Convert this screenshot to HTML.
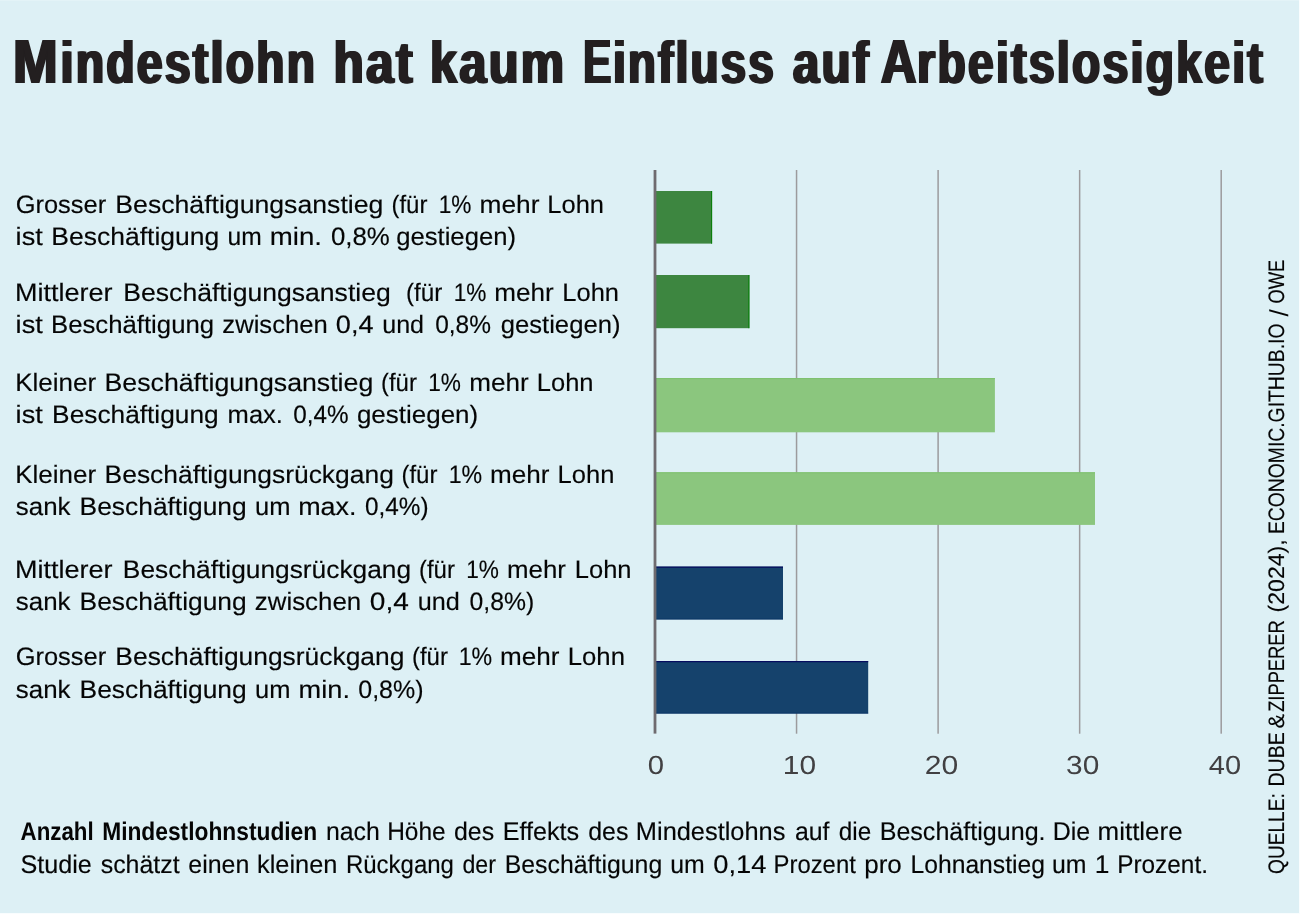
<!DOCTYPE html>
<html lang="de"><head><meta charset="utf-8">
<title>Mindestlohn hat kaum Einfluss auf Arbeitslosigkeit</title>
<style>
html,body{margin:0;padding:0;background:#fff;}
body{width:1300px;height:914px;overflow:hidden;}
svg{display:block;}
text{font-family:"Liberation Sans",sans-serif;fill:#050505;text-rendering:geometricPrecision;}
.ttl{font-size:59.5px;font-weight:bold;fill:#231f20;letter-spacing:3.0px;text-shadow:1.7px 0 0 #231f20,-1.7px 0 0 #231f20;}
.lab text,.cap text{stroke:#050505;stroke-width:0.15px;}
.ttl .c{font-size:62.5px;}
.lab text{font-size:25.2px;}
.cap text{font-size:25.6px;}
.cap .b{font-weight:bold;stroke:none;}
.tick text{font-size:26.3px;fill:#414042;}
.src text{font-size:22.4px;stroke:#050505;stroke-width:0.15px;}
.src .sl{font-size:26px;stroke:none;}
</style></head><body>
<svg width="1300" height="914" viewBox="0 0 1300 914">
<rect x="0" y="0" width="1299" height="913" fill="#ddf0f5"/>
<rect x="0" y="0" width="1299" height="1" fill="#e3f3f7"/>
<rect x="1299" y="0" width="1" height="914" fill="#f9fdfe"/>
<rect x="0" y="913" width="1300" height="1" fill="#f9fdfe"/>
<text class="ttl" y="83.3"><tspan class="c" x="13.15" textLength="47.08" lengthAdjust="spacingAndGlyphs">M</tspan><tspan x="60.68" textLength="256.65" lengthAdjust="spacingAndGlyphs">indestlohn</tspan> <tspan x="333.67" textLength="81.30" lengthAdjust="spacingAndGlyphs">hat</tspan> <tspan x="430.12" textLength="136.20" lengthAdjust="spacingAndGlyphs">kaum</tspan> <tspan class="c" x="583.21" textLength="30.27" lengthAdjust="spacingAndGlyphs">E</tspan><tspan x="613.11" textLength="162.85" lengthAdjust="spacingAndGlyphs">influss</tspan> <tspan x="792.95" textLength="78.12" lengthAdjust="spacingAndGlyphs">auf</tspan> <tspan class="c" x="880.95" textLength="38.00" lengthAdjust="spacingAndGlyphs">A</tspan><tspan x="917.20" textLength="347.92" lengthAdjust="spacingAndGlyphs">rbeitslosigkeit</tspan></text>
<g class="grid" fill="#9c9b9d">
<rect x="795.80" y="170" width="1.5" height="563.7"/>
<rect x="937.35" y="170" width="1.5" height="563.7"/>
<rect x="1078.90" y="170" width="1.5" height="563.7"/>
<rect x="1220.45" y="170" width="1.5" height="563.7"/>
</g>
<g class="bars">
<rect x="655.0" y="191.0" width="57.1" height="52.6" fill="#3d8640"/>
<rect x="711.0" y="191.0" width="1.1" height="52.6" fill="#0b7f0b"/>
<rect x="655.0" y="275.0" width="94.4" height="53.2" fill="#3d8640"/>
<rect x="748.3" y="275.0" width="1.1" height="53.2" fill="#0b7f0b"/>
<rect x="655.0" y="378.1" width="339.9" height="54.2" fill="#8bc67e"/>
<rect x="655.0" y="378.1" width="339.9" height="1" fill="#7ec06e"/>
<rect x="655.0" y="472.3" width="440.0" height="52.6" fill="#8bc67e"/>
<rect x="655.0" y="472.3" width="440.0" height="1" fill="#7ec06e"/>
<rect x="655.0" y="566.6" width="128.0" height="52.8" fill="#15426c"/>
<rect x="655.0" y="566.6" width="128.0" height="1.1" fill="#03055c"/>
<rect x="655.0" y="618.7" width="128.0" height="0.7" fill="#062f63"/>
<rect x="655.0" y="661.1" width="213.2" height="52.4" fill="#15426c"/>
<rect x="655.0" y="661.1" width="213.2" height="1.1" fill="#03055c"/>
<rect x="655.0" y="712.8" width="213.2" height="0.7" fill="#062f63"/>
</g>
<rect class="axis" x="653.60" y="170" width="2.8" height="563.6" fill="#6f6b6f"/>
<g class="tick">
<text x="647.83" y="774.3" textLength="16.30" lengthAdjust="spacingAndGlyphs">0</text>
<text x="782.78" y="774.3" textLength="33.28" lengthAdjust="spacingAndGlyphs">10</text>
<text x="924.80" y="774.3" textLength="33.46" lengthAdjust="spacingAndGlyphs">20</text>
<text x="1066.13" y="774.3" textLength="33.18" lengthAdjust="spacingAndGlyphs">30</text>
<text x="1208.88" y="774.3" textLength="32.27" lengthAdjust="spacingAndGlyphs">40</text>
</g>
<g class="lab">
<text y="213.0"><tspan x="15.66" textLength="90.49" lengthAdjust="spacingAndGlyphs">Grosser</tspan> <tspan x="115.32" textLength="268.01" lengthAdjust="spacingAndGlyphs">Beschäftigungsanstieg</tspan> <tspan x="391.49" textLength="35.93" lengthAdjust="spacingAndGlyphs">(für</tspan> <tspan x="438.72" textLength="32.70" lengthAdjust="spacingAndGlyphs">1%</tspan> <tspan x="479.52" textLength="59.90" lengthAdjust="spacingAndGlyphs">mehr</tspan> <tspan x="547.29" textLength="56.73" lengthAdjust="spacingAndGlyphs">Lohn</tspan></text>
<text y="245.0"><tspan x="15.61" textLength="27.19" lengthAdjust="spacingAndGlyphs">ist</tspan> <tspan x="51.36" textLength="167.88" lengthAdjust="spacingAndGlyphs">Beschäftigung</tspan> <tspan x="227.58" textLength="34.21" lengthAdjust="spacingAndGlyphs">um</tspan> <tspan x="269.79" textLength="52.22" lengthAdjust="spacingAndGlyphs">min.</tspan> <tspan x="330.95" textLength="58.90" lengthAdjust="spacingAndGlyphs">0,8%</tspan> <tspan x="396.22" textLength="119.73" lengthAdjust="spacingAndGlyphs">gestiegen)</tspan></text>
<text y="301.0"><tspan x="14.98" textLength="97.54" lengthAdjust="spacingAndGlyphs">Mittlerer</tspan> <tspan x="123.33" textLength="267.43" lengthAdjust="spacingAndGlyphs">Beschäftigungsanstieg</tspan> <tspan x="405.97" textLength="36.33" lengthAdjust="spacingAndGlyphs">(für</tspan> <tspan x="453.72" textLength="32.70" lengthAdjust="spacingAndGlyphs">1%</tspan> <tspan x="494.34" textLength="59.43" lengthAdjust="spacingAndGlyphs">mehr</tspan> <tspan x="562.29" textLength="56.73" lengthAdjust="spacingAndGlyphs">Lohn</tspan></text>
<text y="333.0"><tspan x="15.61" textLength="27.19" lengthAdjust="spacingAndGlyphs">ist</tspan> <tspan x="51.00" textLength="163.06" lengthAdjust="spacingAndGlyphs">Beschäftigung</tspan> <tspan x="222.39" textLength="105.33" lengthAdjust="spacingAndGlyphs">zwischen</tspan> <tspan x="335.84" textLength="37.66" lengthAdjust="spacingAndGlyphs">0,4</tspan> <tspan x="382.19" textLength="41.85" lengthAdjust="spacingAndGlyphs">und</tspan> <tspan x="435.24" textLength="55.73" lengthAdjust="spacingAndGlyphs">0,8%</tspan> <tspan x="500.72" textLength="119.73" lengthAdjust="spacingAndGlyphs">gestiegen)</tspan></text>
<text y="391.0"><tspan x="15.20" textLength="80.84" lengthAdjust="spacingAndGlyphs">Kleiner</tspan> <tspan x="104.55" textLength="268.71" lengthAdjust="spacingAndGlyphs">Beschäftigungsanstieg</tspan> <tspan x="380.99" textLength="35.93" lengthAdjust="spacingAndGlyphs">(für</tspan> <tspan x="428.22" textLength="32.70" lengthAdjust="spacingAndGlyphs">1%</tspan> <tspan x="469.34" textLength="59.43" lengthAdjust="spacingAndGlyphs">mehr</tspan> <tspan x="536.79" textLength="56.73" lengthAdjust="spacingAndGlyphs">Lohn</tspan></text>
<text y="423.2"><tspan x="15.61" textLength="27.19" lengthAdjust="spacingAndGlyphs">ist</tspan> <tspan x="52.14" textLength="166.52" lengthAdjust="spacingAndGlyphs">Beschäftigung</tspan> <tspan x="227.63" textLength="55.33" lengthAdjust="spacingAndGlyphs">max.</tspan> <tspan x="293.24" textLength="55.35" lengthAdjust="spacingAndGlyphs">0,4%</tspan> <tspan x="356.95" textLength="121.21" lengthAdjust="spacingAndGlyphs">gestiegen)</tspan></text>
<text y="483.0"><tspan x="15.20" textLength="80.84" lengthAdjust="spacingAndGlyphs">Kleiner</tspan> <tspan x="104.62" textLength="289.22" lengthAdjust="spacingAndGlyphs">Beschäftigungsrückgang</tspan> <tspan x="401.49" textLength="35.93" lengthAdjust="spacingAndGlyphs">(für</tspan> <tspan x="448.68" textLength="33.49" lengthAdjust="spacingAndGlyphs">1%</tspan> <tspan x="490.09" textLength="59.43" lengthAdjust="spacingAndGlyphs">mehr</tspan> <tspan x="557.60" textLength="56.77" lengthAdjust="spacingAndGlyphs">Lohn</tspan></text>
<text y="515.4"><tspan x="15.88" textLength="54.71" lengthAdjust="spacingAndGlyphs">sank</tspan> <tspan x="79.63" textLength="167.05" lengthAdjust="spacingAndGlyphs">Beschäftigung</tspan> <tspan x="255.12" textLength="35.41" lengthAdjust="spacingAndGlyphs">um</tspan> <tspan x="298.15" textLength="58.35" lengthAdjust="spacingAndGlyphs">max.</tspan> <tspan x="364.99" textLength="63.57" lengthAdjust="spacingAndGlyphs">0,4%)</tspan></text>
<text y="577.5"><tspan x="14.98" textLength="97.54" lengthAdjust="spacingAndGlyphs">Mittlerer</tspan> <tspan x="122.88" textLength="288.28" lengthAdjust="spacingAndGlyphs">Beschäftigungsrückgang</tspan> <tspan x="418.99" textLength="35.93" lengthAdjust="spacingAndGlyphs">(für</tspan> <tspan x="466.22" textLength="32.70" lengthAdjust="spacingAndGlyphs">1%</tspan> <tspan x="507.10" textLength="58.84" lengthAdjust="spacingAndGlyphs">mehr</tspan> <tspan x="574.79" textLength="56.73" lengthAdjust="spacingAndGlyphs">Lohn</tspan></text>
<text y="609.8"><tspan x="15.88" textLength="54.71" lengthAdjust="spacingAndGlyphs">sank</tspan> <tspan x="79.63" textLength="167.05" lengthAdjust="spacingAndGlyphs">Beschäftigung</tspan> <tspan x="254.85" textLength="106.30" lengthAdjust="spacingAndGlyphs">zwischen</tspan> <tspan x="369.80" textLength="39.03" lengthAdjust="spacingAndGlyphs">0,4</tspan> <tspan x="417.67" textLength="42.06" lengthAdjust="spacingAndGlyphs">und</tspan> <tspan x="469.49" textLength="64.68" lengthAdjust="spacingAndGlyphs">0,8%)</tspan></text>
<text y="665.0"><tspan x="15.66" textLength="90.49" lengthAdjust="spacingAndGlyphs">Grosser</tspan> <tspan x="115.38" textLength="288.99" lengthAdjust="spacingAndGlyphs">Beschäftigungsrückgang</tspan> <tspan x="411.99" textLength="35.93" lengthAdjust="spacingAndGlyphs">(für</tspan> <tspan x="458.68" textLength="33.49" lengthAdjust="spacingAndGlyphs">1%</tspan> <tspan x="500.09" textLength="59.43" lengthAdjust="spacingAndGlyphs">mehr</tspan> <tspan x="567.77" textLength="57.17" lengthAdjust="spacingAndGlyphs">Lohn</tspan></text>
<text y="697.5"><tspan x="15.88" textLength="54.71" lengthAdjust="spacingAndGlyphs">sank</tspan> <tspan x="79.63" textLength="167.05" lengthAdjust="spacingAndGlyphs">Beschäftigung</tspan> <tspan x="255.12" textLength="35.41" lengthAdjust="spacingAndGlyphs">um</tspan> <tspan x="298.63" textLength="51.35" lengthAdjust="spacingAndGlyphs">min.</tspan> <tspan x="358.24" textLength="65.31" lengthAdjust="spacingAndGlyphs">0,8%)</tspan></text>
</g>
<g class="cap">
<text y="840.0"><tspan class="b" x="20.62" textLength="73.08" lengthAdjust="spacingAndGlyphs">Anzahl</tspan> <tspan class="b" x="102.18" textLength="215.02" lengthAdjust="spacingAndGlyphs">Mindestlohnstudien</tspan> <tspan x="325.98" textLength="53.90" lengthAdjust="spacingAndGlyphs">nach</tspan> <tspan x="387.16" textLength="58.53" lengthAdjust="spacingAndGlyphs">Höhe</tspan> <tspan x="454.02" textLength="40.16" lengthAdjust="spacingAndGlyphs">des</tspan> <tspan x="502.64" textLength="76.55" lengthAdjust="spacingAndGlyphs">Effekts</tspan> <tspan x="588.27" textLength="40.16" lengthAdjust="spacingAndGlyphs">des</tspan> <tspan x="635.85" textLength="149.57" lengthAdjust="spacingAndGlyphs">Mindestlohns</tspan> <tspan x="794.91" textLength="34.53" lengthAdjust="spacingAndGlyphs">auf</tspan> <tspan x="838.86" textLength="32.41" lengthAdjust="spacingAndGlyphs">die</tspan> <tspan x="879.66" textLength="165.89" lengthAdjust="spacingAndGlyphs">Beschäftigung.</tspan> <tspan x="1052.70" textLength="37.45" lengthAdjust="spacingAndGlyphs">Die</tspan> <tspan x="1097.55" textLength="85.09" lengthAdjust="spacingAndGlyphs">mittlere</tspan></text>
<text y="872.5"><tspan x="20.48" textLength="71.39" lengthAdjust="spacingAndGlyphs">Studie</tspan> <tspan x="100.71" textLength="78.93" lengthAdjust="spacingAndGlyphs">schätzt</tspan> <tspan x="188.32" textLength="61.02" lengthAdjust="spacingAndGlyphs">einen</tspan> <tspan x="257.03" textLength="80.47" lengthAdjust="spacingAndGlyphs">kleinen</tspan> <tspan x="345.91" textLength="108.04" lengthAdjust="spacingAndGlyphs">Rückgang</tspan> <tspan x="462.48" textLength="33.51" lengthAdjust="spacingAndGlyphs">der</tspan> <tspan x="504.70" textLength="157.54" lengthAdjust="spacingAndGlyphs">Beschäftigung</tspan> <tspan x="670.23" textLength="34.52" lengthAdjust="spacingAndGlyphs">um</tspan> <tspan x="713.29" textLength="53.25" lengthAdjust="spacingAndGlyphs">0,14</tspan> <tspan x="773.54" textLength="82.29" lengthAdjust="spacingAndGlyphs">Prozent</tspan> <tspan x="864.18" textLength="37.63" lengthAdjust="spacingAndGlyphs">pro</tspan> <tspan x="910.47" textLength="134.53" lengthAdjust="spacingAndGlyphs">Lohnanstieg</tspan> <tspan x="1051.98" textLength="34.52" lengthAdjust="spacingAndGlyphs">um</tspan> <tspan x="1094.73" textLength="14.65" lengthAdjust="spacingAndGlyphs">1</tspan> <tspan x="1117.16" textLength="90.80" lengthAdjust="spacingAndGlyphs">Prozent.</tspan></text>
</g>
<g class="src" transform="translate(1284.2 873.5) rotate(-90)">
<text><tspan x="-0.51" y="0" textLength="80.83" lengthAdjust="spacingAndGlyphs">QUELLE:</tspan> <tspan x="86.93" y="0" textLength="54.40" lengthAdjust="spacingAndGlyphs">DUBE</tspan> <tspan x="144.89" y="0" textLength="14.60" lengthAdjust="spacingAndGlyphs">&amp;</tspan> <tspan x="161.63" y="0" textLength="91.64" lengthAdjust="spacingAndGlyphs">ZIPPERER</tspan> <tspan x="261.03" y="0" textLength="73.23" lengthAdjust="spacingAndGlyphs">(2024),</tspan> <tspan x="339.38" y="0" textLength="210.61" lengthAdjust="spacingAndGlyphs">ECONOMIC.GITHUB.IO</tspan> <tspan class="sl" x="556.92" y="3.4" textLength="7.32" lengthAdjust="spacingAndGlyphs">/</tspan> <tspan x="569.98" y="0" textLength="43.72" lengthAdjust="spacingAndGlyphs">OWE</tspan></text>
</g>
</svg>
</body></html>
